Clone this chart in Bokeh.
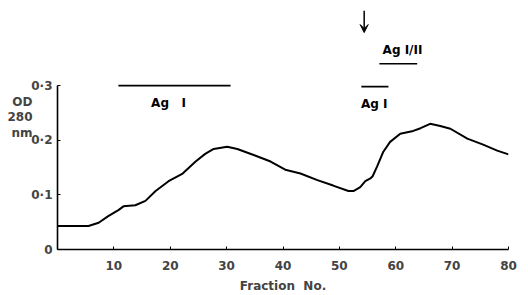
from bokeh.plotting import figure
from bokeh.models import (ColumnDataSource, FixedTicker, Label, Arrow, VeeHead, Range1d,
                          LinearAxis)
from bokeh.embed import file_html
from bokeh.resources import INLINE

# ---- data ----
fraction = [0, 2, 4, 5.5, 7.3, 9.0, 10.8, 11.7, 13.8, 15.6, 17.4, 19.7, 22.2, 24.5,
            26.2, 27.7, 30.1, 31.9, 34.8, 37.8, 40.4, 43.1, 46.1, 48.9, 51.6, 52.5,
            53.7, 54.6, 55.5, 55.9, 56.7, 57.8, 59.0, 60.8, 63.1, 64.4, 66.1, 67.9,
            69.7, 72.7, 75.5, 78.0, 80.0]
od280 = [0.043, 0.043, 0.043, 0.043, 0.049, 0.061, 0.072, 0.079, 0.081, 0.089, 0.107,
         0.125, 0.139, 0.161, 0.175, 0.184, 0.188, 0.184, 0.173, 0.161, 0.146, 0.139,
         0.127, 0.117, 0.107, 0.107, 0.114, 0.125, 0.130, 0.134, 0.152, 0.179, 0.197,
         0.212, 0.217, 0.222, 0.230, 0.226, 0.221, 0.203, 0.192, 0.181, 0.174]

x_ticks = [10, 20, 30, 40, 50, 60, 70, 80]
y_ticks = [0, 0.1, 0.2, 0.3]
y_tick_labels = ["0", "0·1", "0·2", "0·3"]
y_title = "OD\n280\nnm\n\u00a0"
x_title = "Fraction\u00a0\u00a0No."

# pool bars: (start, end, level) and labels
bar_start = [10.8, 53.9, 57.1]
bar_end = [30.7, 58.7, 63.8]
bar_level = [0.300, 0.298, 0.340]
pool_labels = ["Ag\u00a0\u00a0\u00a0I", "Ag\u00a0I", "Ag\u00a0I/II"]
pool_label_x = [19.7, 56.2, 61.2]
pool_label_y = [0.268, 0.266, 0.365]
arrow_fraction = 54.4

FONT = "DejaVu Sans"

p = figure(width=528, height=295, output_backend="svg", toolbar_location=None,
           x_range=Range1d(0, 80), y_range=Range1d(0, 0.4557),
           min_border_left=57, min_border_right=20, min_border_top=0,
           min_border_bottom=43)
p.outline_line_color = None
p.background_fill_color = "white"
p.border_fill_color = "white"
p.xgrid.visible = False
p.ygrid.visible = False

src = ColumnDataSource(dict(x=fraction, y=od280))
p.line("x", "y", source=src, line_color="black", line_width=2)

bsrc = ColumnDataSource(dict(x0=bar_start, x1=bar_end, y=bar_level))
p.segment(x0="x0", y0="y", x1="x1", y1="y", source=bsrc, line_color="black",
          line_width=1.6)

for t, x, y in zip(pool_labels, pool_label_x, pool_label_y):
    p.add_layout(Label(x=x, y=y, text=t, text_align="center", text_baseline="middle",
                       text_font=FONT, text_font_style="bold", text_font_size="12px",
                       text_color="black"))

p.add_layout(Arrow(end=VeeHead(size=8, fill_color="black", line_color="black"),
                   x_start=arrow_fraction, y_start=0.437,
                   x_end=arrow_fraction, y_end=0.397,
                   line_color="black", line_width=1.5))

xa = p.xaxis[0]
xa.ticker = FixedTicker(ticks=x_ticks)
xa.bounds = (0, 80)
xa.axis_line_width = 1.6
xa.major_tick_in = 3
xa.major_tick_out = 0
xa.minor_tick_line_color = None
xa.major_label_standoff = 11
xa.major_label_text_font = FONT
xa.major_label_text_font_style = "bold"
xa.major_label_text_font_size = "12px"
xa.axis_label = x_title
xa.axis_label_text_font = FONT
xa.axis_label_text_font_style = "bold"
xa.axis_label_text_font_size = "12px"
xa.axis_label_standoff = 6

ya = p.yaxis[0]
ya.ticker = FixedTicker(ticks=y_ticks)
ya.bounds = (0, 0.3)
ya.axis_line_width = 1.6
ya.major_tick_in = 3
ya.major_tick_out = 0
ya.minor_tick_line_color = None
ya.major_label_standoff = 5
ya.major_label_overrides = {v: s for v, s in zip(y_ticks, y_tick_labels)}
ya.major_label_text_font = FONT
ya.major_label_text_font_style = "bold"
ya.major_label_text_font_size = "12px"

# outer left axis carrying only the stacked "OD 280 nm" title
ta = LinearAxis(ticker=FixedTicker(ticks=[]), bounds=(0.223, 0.293),
                axis_line_color=None, major_tick_line_color=None,
                minor_tick_line_color=None, major_label_text_font_size="0px",
                axis_label=y_title, axis_label_orientation="horizontal",
                axis_label_text_font=FONT, axis_label_text_font_style="bold",
                axis_label_text_font_size="12px", axis_label_standoff=-4,
                axis_label_text_align="left",
                axis_label_text_line_height=1.1)
p.add_layout(ta, "left")

open("out.html", "w").write(file_html(p, INLINE))
